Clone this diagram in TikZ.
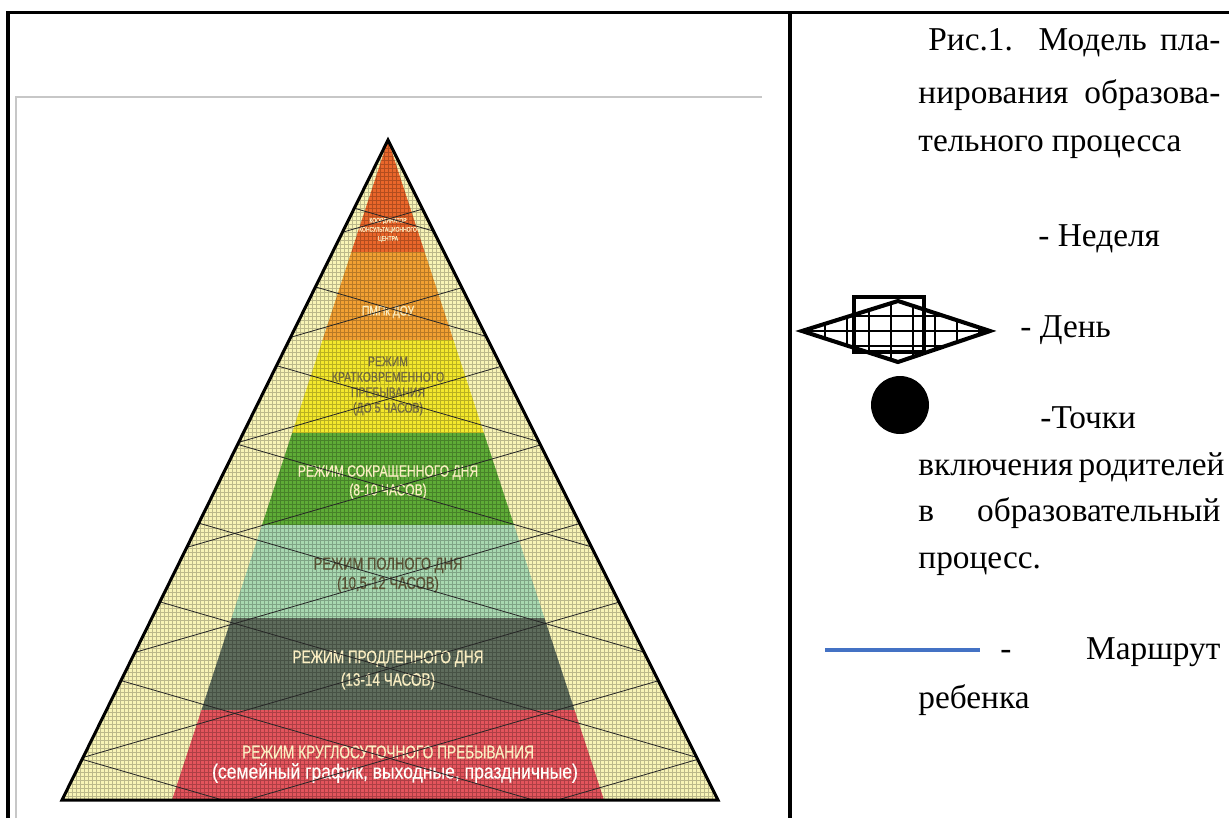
\documentclass[tikz,border=0pt]{standalone}
\usepackage{fontspec}
\setmainfont{Liberation Serif}
\newfontfamily\bandfont[FakeStretch=0.75,FakeBold=0.6]{Liberation Sans}
\newfontfamily\bandwide[FakeStretch=0.85,FakeBold=0.4]{Liberation Sans}
\definecolor{pale}{RGB}{248,244,182}
\definecolor{bandA}{RGB}{234,102,42}
\definecolor{bandB}{RGB}{242,160,50}
\definecolor{bandC}{RGB}{244,232,44}
\definecolor{bandD}{RGB}{94,172,54}
\definecolor{bandE}{RGB}{168,216,176}
\definecolor{bandF}{RGB}{94,108,92}
\definecolor{bandG}{RGB}{228,84,92}
\definecolor{route}{RGB}{68,114,196}
\definecolor{cream}{RGB}{250,238,194}
\definecolor{olive}{RGB}{112,104,62}
\definecolor{darkolive}{RGB}{88,80,52}
\tikzset{
  band/.style={align=center, inner sep=0pt},
  leg/.style={anchor=base west, inner sep=0pt, font=\fontsize{15.5}{17}\selectfont},
}
\begin{document}
\begin{tikzpicture}[x=0.465pt,y=-0.465pt]
\useasboundingbox (0,0) rectangle (1229,818);
% table frame
\draw[line width=1.4pt] (8,818)--(8,12)--(1229,12);
\draw[line width=1.4pt] (790,12)--(790,818);
\draw[black!22,line width=0.6pt] (16,818)--(16,97)--(762,97);
% pyramid
\fill[pale] (388,140)--(62,800)--(718,800)--cycle;
\begin{scope}
  \clip (388,140)--(172,800)--(604,800)--cycle;
  \foreach \ya/\yb/\c in {140/252/bandA,252/340/bandB,340/433/bandC,433/525/bandD,525/618/bandE,618/710/bandF,710/800/bandG}
    \fill[\c] (100,\ya) rectangle (700,\yb);
\end{scope}
% graph paper
\begin{scope}
  \clip (388,140)--(62,800)--(718,800)--cycle;
  \draw[black,opacity=0.24,line width=0.25pt,step=1.86pt] (50,810) grid (730,130);
\end{scope}
\node[band,text=cream,font=\bandfont\fontsize{3.1}{4.2}\selectfont] (k) at (388,230) {КООРДИНАТОР\\КОНСУЛЬТАЦИОННОГО\\ЦЕНТРА};
\node[band,text=cream,font=\bandfont\fontsize{6.4}{7}\selectfont] (p) at (388,312) {ПМПк ДОУ};
\node[band,text=olive,font=\bandfont\fontsize{6.5}{7.2}\selectfont] (kr) at (388,386) {РЕЖИМ\\КРАТКОВРЕМЕННОГО\\ПРЕБЫВАНИЯ\\(ДО 5 ЧАСОВ)};
\node[band,text=cream,font=\bandfont\fontsize{7.5}{8.8}\selectfont] (s) at (388,482) {РЕЖИМ СОКРАЩЕННОГО ДНЯ\\(8-10 ЧАСОВ)};
\node[band,text=darkolive,font=\bandfont\fontsize{8.1}{9}\selectfont] (f) at (388,575) {РЕЖИМ ПОЛНОГО ДНЯ\\(10,5-12 ЧАСОВ)};
\node[band,text=cream,font=\bandfont\fontsize{8.4}{10.5}\selectfont] (pr) at (388,670) {РЕЖИМ ПРОДЛЕННОГО ДНЯ\\(13-14 ЧАСОВ)};
\node[band,text=cream,font=\bandfont\fontsize{8.5}{9}\selectfont] (r1) at (388,752) {РЕЖИМ КРУГЛОСУТОЧНОГО ПРЕБЫВАНИЯ};
\node[band,text=white!92!cream,font=\bandwide\fontsize{9.6}{11}\selectfont] (r2) at (395,773) {(семейный график, выходные, праздничные)};
% week lines
\begin{scope}
  \clip (388,140)--(62,800)--(718,800)--cycle;
  \foreach \c in {-60,30,...,800}{
    \draw[black!85,line width=0.38pt] (50,\c)--(730,\c+197);
    \draw[black!85,line width=0.38pt] (50,\c+197)--(730,\c);
  }
\end{scope}
\draw[line width=1.4pt,line join=miter] (388,140)--(62,800)--(718,800)--cycle;
% legend
\node[leg] (t1) at (928,50) {\makebox[135.8pt][s]{Рис.1. Модель пла-}};
\node[leg] (t2) at (918,103) {\makebox[140.4pt][s]{нирования образова-}};
\node[leg] (t3) at (918,151) {тельного процесса};
\node[leg] (w) at (1038,246) {- Неделя};
\begin{scope}
  \clip (802,331)--(898,301)--(990,331)--(898,362)--cycle;
  \foreach \x in {825,847,...,985} \draw[line width=0.8pt] (\x,295)--(\x,365);
  \foreach \y in {316,331,346} \draw[line width=0.8pt] (795,\y)--(995,\y);
\end{scope}
\draw[line width=1.9pt,line join=miter] (802,331)--(898,301)--(990,331)--(898,362)--cycle;
\draw[line width=1.9pt] (854,297) rectangle (924,352);
\node[leg] (d) at (1020,337) {- День};
\fill (900,405) circle (29);
\node[leg] (tp) at (1040,428) {-Точки};
\node[leg] (t4) at (918,475) {\makebox[140.4pt][s]{включения родителей}};
\node[leg] (t5) at (918,521) {\makebox[140.4pt][s]{в образовательный}};
\node[leg] (t6) at (918,568) {процесс.};
\draw[route,line width=2.3pt] (825,650)--(980,650);
\node[leg] (m) at (1000,659) {\makebox[102.3pt][s]{- Маршрут}};
\node[leg] (t7) at (918,708) {ребенка};
\end{tikzpicture}
\end{document}
